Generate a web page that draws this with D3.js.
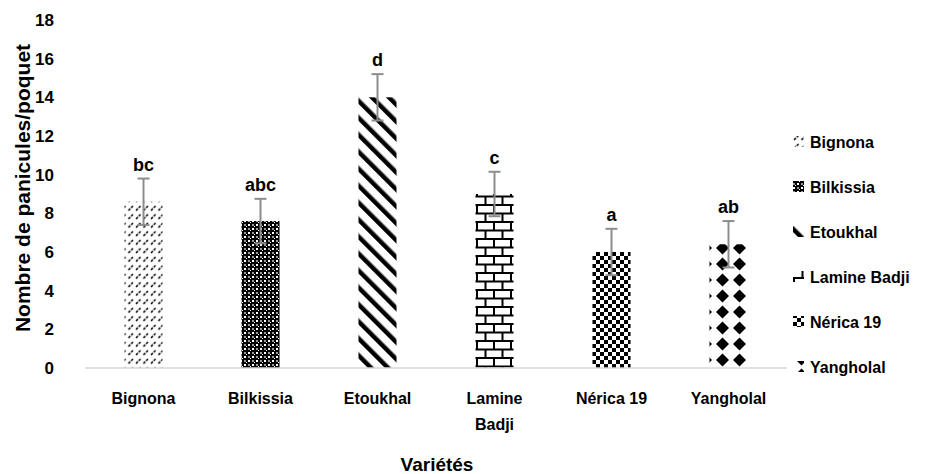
<!DOCTYPE html>
<html>
<head>
<meta charset="utf-8">
<script src="https://cdn.jsdelivr.net/npm/d3@7"></script>
<style>
  body { margin: 0; background: white; }
  text { font-family: "Liberation Sans", Arial, sans-serif; font-weight: bold; fill: black; }
</style>
</head>
<body>
<svg id="chart"></svg>
<script>
// data
var varietes = ["Bignona", "Bilkissia", "Etoukhal", "Lamine Badji", "Nérica 19", "Yangholal"]
var moyennes = [8.6, 7.6, 14.0, 9.0, 6.0, 6.4]
var erreurs = [1.2, 1.15, 1.2, 1.15, 1.2, 1.2]
var lettres = ["bc", "abc", "d", "c", "a", "ab"]
var yTicks = [0, 2, 4, 6, 8, 10, 12, 14, 16, 18]

var width = 942, height = 474

var svg = d3.select("#chart")
    .attr("width", width)
    .attr("height", height)

var defs = svg.append("defs")

// Bignona : small dashed diagonals
var p1 = defs.append("pattern").attr("id", "pat0").attr("patternUnits", "userSpaceOnUse")
    .attr("width", 7.5).attr("height", 8.5)
p1.append("rect").attr("width", 7.5).attr("height", 8.5).attr("fill", "white")
p1.append("line").attr("x1", 1).attr("y1", 6.5).attr("x2", 5.5).attr("y2", 2)
    .attr("stroke", "black").attr("stroke-width", 1.5).attr("stroke-dasharray", "2.6 1.2")

// Bilkissia : dense plaid
var p2 = defs.append("pattern").attr("id", "pat1").attr("patternUnits", "userSpaceOnUse")
    .attr("width", 8).attr("height", 8)
p2.append("rect").attr("width", 8).attr("height", 8).attr("fill", "black")
p2.append("rect").attr("x", 0).attr("y", 0).attr("width", 2).attr("height", 2).attr("fill", "white")
p2.append("rect").attr("x", 4).attr("y", 4).attr("width", 2).attr("height", 2).attr("fill", "white")
p2.append("rect").attr("x", 0).attr("y", 4).attr("width", 2).attr("height", 2).attr("fill", "#999")
p2.append("rect").attr("x", 4).attr("y", 0).attr("width", 2).attr("height", 2).attr("fill", "#999")
p2.append("rect").attr("x", 2).attr("y", 6).attr("width", 1).attr("height", 1).attr("fill", "white")
p2.append("rect").attr("x", 6).attr("y", 2).attr("width", 1).attr("height", 1).attr("fill", "white")

// Etoukhal : wide downward diagonal stripes
var p3 = defs.append("pattern").attr("id", "pat2").attr("patternUnits", "userSpaceOnUse")
    .attr("width", 12).attr("height", 12).attr("patternTransform", "rotate(-45)")
p3.append("rect").attr("width", 12).attr("height", 12).attr("fill", "white")
p3.append("rect").attr("x", 0).attr("y", 0).attr("width", 4.5).attr("height", 12).attr("fill", "black")

// Lamine Badji : bricks
var p4 = defs.append("pattern").attr("id", "pat3").attr("patternUnits", "userSpaceOnUse")
    .attr("width", 17).attr("height", 17)
p4.append("rect").attr("width", 17).attr("height", 17).attr("fill", "white")
p4.append("path")
    .attr("d", "M0,1 H17 M0,9.5 H17 M1,1 V9.5 M9.5,9.5 V17")
    .attr("stroke", "black").attr("stroke-width", 2).attr("fill", "none")

// Nérica 19 : small checkerboard
var p5 = defs.append("pattern").attr("id", "pat4").attr("patternUnits", "userSpaceOnUse")
    .attr("width", 8).attr("height", 8)
p5.append("rect").attr("width", 8).attr("height", 8).attr("fill", "white")
p5.append("rect").attr("x", 0).attr("y", 0).attr("width", 4).attr("height", 4).attr("fill", "black")
p5.append("rect").attr("x", 4).attr("y", 4).attr("width", 4).attr("height", 4).attr("fill", "black")

// Yangholal : diamonds
var p6 = defs.append("pattern").attr("id", "pat5").attr("patternUnits", "userSpaceOnUse")
    .attr("width", 17).attr("height", 16).attr("x", 0).attr("y", 0)
p6.append("rect").attr("width", 17).attr("height", 16).attr("fill", "white")
p6.append("path").attr("d", "M8.5,1.5 L15,8 L8.5,14.5 L2,8 Z").attr("fill", "black")

var xScale = d3.scaleBand()
    .domain(varietes)
    .range([85, 787])
    .paddingInner(0.675)
    .paddingOuter(0.3375)

var yScale = d3.scaleLinear()
    .domain([0, 18])
    .range([368, 20])

// axe des y (labels only)
var yAxis = svg.append("g")
    .attr("transform", "translate(62,0)")
    .call(d3.axisLeft(yScale).tickValues(yTicks).tickSize(0).tickPadding(8))
yAxis.select(".domain").remove()
yAxis.selectAll("text")
    .style("font-size", "17px")
    .style("font-family", "'Liberation Sans', Arial, sans-serif")
    .style("font-weight", "bold")
    .attr("fill", "black")

// bars
svg.selectAll("rect.bar")
    .data(varietes)
    .join("rect")
    .attr("class", "bar")
    .attr("x", d => xScale(d))
    .attr("width", xScale.bandwidth())
    .attr("y", (d, i) => yScale(moyennes[i]))
    .attr("height", (d, i) => yScale(0) - yScale(moyennes[i]))
    .attr("fill", (d, i) => "url(#pat" + i + ")")

// axe des x line
svg.append("line")
    .attr("x1", 85).attr("x2", 787)
    .attr("y1", yScale(0)).attr("y2", yScale(0))
    .attr("stroke", "#d9d9d9").attr("stroke-width", 1.5)

// error bars
var eb = svg.selectAll("g.err")
    .data(varietes)
    .join("g")
    .attr("class", "err")
    .attr("transform", d => "translate(" + (xScale(d) + xScale.bandwidth() / 2) + ",0)")
eb.append("line")
    .attr("y1", (d, i) => yScale(moyennes[i] + erreurs[i]))
    .attr("y2", (d, i) => yScale(moyennes[i] - erreurs[i]))
    .attr("stroke", "#8c8c8c").attr("stroke-width", 2)
eb.append("line")
    .attr("x1", -6).attr("x2", 6)
    .attr("y1", (d, i) => yScale(moyennes[i] + erreurs[i]))
    .attr("y2", (d, i) => yScale(moyennes[i] + erreurs[i]))
    .attr("stroke", "#8c8c8c").attr("stroke-width", 2)
eb.append("line")
    .attr("x1", -6).attr("x2", 6)
    .attr("y1", (d, i) => yScale(moyennes[i] - erreurs[i]))
    .attr("y2", (d, i) => yScale(moyennes[i] - erreurs[i]))
    .attr("stroke", "#8c8c8c").attr("stroke-width", 2)

// lettres de significativite
svg.selectAll("text.lettre")
    .data(varietes)
    .join("text")
    .attr("class", "lettre")
    .attr("x", d => xScale(d) + xScale.bandwidth() / 2)
    .attr("y", (d, i) => yScale(moyennes[i] + erreurs[i]) - 8)
    .attr("text-anchor", "middle")
    .style("font-size", "18px")
    .text((d, i) => lettres[i])

// x labels
svg.selectAll("text.xlab")
    .data(varietes)
    .join("text")
    .attr("class", "xlab")
    .attr("x", d => xScale(d) + xScale.bandwidth() / 2)
    .attr("y", 404)
    .attr("text-anchor", "middle")
    .style("font-size", "16px")
    .each(function (d) {
        var parts = d == "Lamine Badji" ? ["Lamine", "Badji"] : [d]
        d3.select(this).selectAll("tspan")
            .data(parts)
            .join("tspan")
            .attr("x", xScale(d) + xScale.bandwidth() / 2)
            .attr("dy", (p, j) => j == 0 ? 0 : 26)
            .text(p => p)
    })

// titres des axes
svg.append("text")
    .attr("x", 437)
    .attr("y", 471)
    .attr("text-anchor", "middle")
    .style("font-size", "19px")
    .text("Variétés")

svg.append("text")
    .attr("transform", "translate(30,188) rotate(-90)")
    .attr("text-anchor", "middle")
    .style("font-size", "21px")
    .text("Nombre de panicules/poquet")

// legende
var leg = svg.selectAll("g.leg")
    .data(varietes)
    .join("g")
    .attr("class", "leg")
    .attr("transform", (d, i) => "translate(793," + (142 + i * 45) + ")")
leg.append("rect")
    .attr("x", 0).attr("y", -6)
    .attr("width", 11).attr("height", 11)
    .attr("fill", (d, i) => "url(#pat" + i + ")")
leg.append("text")
    .attr("x", 17)
    .attr("y", 6)
    .style("font-size", "16px")
    .text(d => d)
</script>
</body>
</html>
